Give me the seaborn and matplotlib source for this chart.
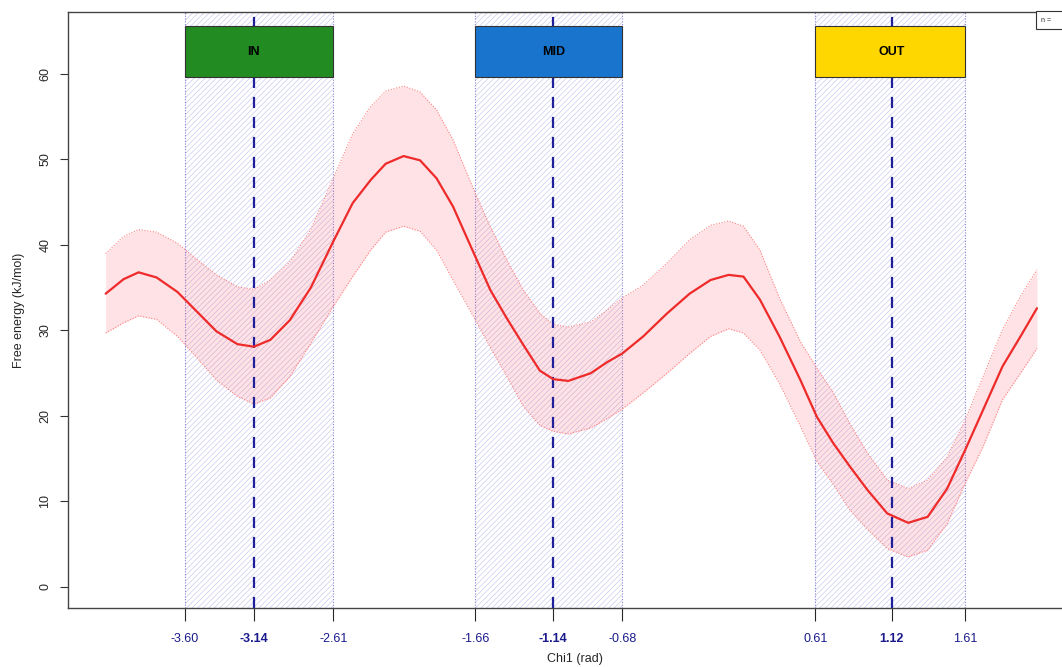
import numpy as np
import pandas as pd
import matplotlib
matplotlib.use("Agg")
import matplotlib.pyplot as plt
from matplotlib.patches import Rectangle
import seaborn as sns

# free energy profile
chi1 = [-4.13, -4.01, -3.91, -3.79, -3.65, -3.52, -3.39, -3.25, -3.14, -3.03,
        -2.90, -2.76, -2.61, -2.48, -2.36, -2.26, -2.14, -2.03, -1.92, -1.81,
        -1.66, -1.56, -1.45, -1.34, -1.23, -1.14, -1.04, -0.89, -0.78, -0.68,
        -0.54, -0.38, -0.23, -0.09, 0.03, 0.13, 0.24, 0.37, 0.51, 0.62,
        0.73, 0.84, 0.96, 1.09, 1.23, 1.36, 1.49, 1.61, 1.73, 1.86,
        1.98, 2.09]
energy = [34.3, 36.0, 36.8, 36.2, 34.5, 32.2, 29.9, 28.4, 28.1, 28.9,
          31.2, 35.0, 40.4, 44.9, 47.6, 49.5, 50.4, 49.9, 47.8, 44.5,
          38.6, 34.7, 31.4, 28.3, 25.3, 24.3, 24.1, 25.0, 26.3, 27.3,
          29.3, 32.0, 34.3, 35.9, 36.5, 36.3, 33.6, 29.3, 24.2, 19.9,
          16.8, 14.1, 11.3, 8.6, 7.5, 8.2, 11.5, 16.0, 20.7, 25.8,
          29.3, 32.6]
upper = [39.0, 41.0, 41.8, 41.5, 40.2, 38.3, 36.5, 35.1, 34.8, 35.9,
         38.0, 41.8, 47.8, 53.0, 56.2, 58.0, 58.6, 57.9, 55.8, 52.3,
         46.0, 42.1, 38.2, 34.7, 32.0, 30.7, 30.4, 31.0, 32.4, 33.8,
         35.3, 37.9, 40.6, 42.3, 42.8, 42.2, 39.4, 33.8, 28.7, 25.6,
         22.7, 19.1, 15.6, 12.5, 11.5, 12.5, 15.2, 19.5, 24.6, 30.1,
         34.0, 37.1]
lower = [29.7, 30.9, 31.7, 31.3, 29.3, 26.8, 24.2, 22.3, 21.4, 22.1,
         24.6, 28.5, 32.8, 36.3, 39.4, 41.5, 42.2, 41.6, 39.4, 35.9,
         31.2, 28.0, 24.6, 21.1, 18.9, 18.2, 17.9, 18.6, 19.7, 20.8,
         22.7, 25.0, 27.3, 29.3, 30.2, 29.7, 27.7, 23.8, 18.8, 14.7,
         12.0, 9.0, 6.7, 4.5, 3.5, 4.3, 7.4, 12.1, 16.4, 21.9,
         25.0, 27.9]

# rotamer states
states = ["IN", "MID", "OUT"]
state_lo = [-3.60, -1.66, 0.61]
state_mid = [-3.14, -1.14, 1.12]
state_hi = [-2.61, -0.68, 1.61]
state_colors = ["#228B22", "#1874CD", "#FFD700"]

df = pd.DataFrame({"chi1": chi1, "energy": energy, "upper": upper, "lower": lower})

sns.set_style("white")
plt.rcParams["font.family"] = ["Liberation Sans", "DejaVu Sans"]
plt.rcParams["hatch.linewidth"] = 0.45

fig = plt.figure(figsize=(10.62, 6.67), dpi=100)
ax = fig.add_axes([0.064, 0.0885, 0.955, 0.8935])

ymin, ymax = -2.46, 67.25
box_lo, box_hi = 59.6, 65.6

for lo, mid, hi in zip(state_lo, state_mid, state_hi):
    ax.axvspan(lo, hi, facecolor="none", edgecolor="#c6c6ee", hatch="//////", linewidth=0, zorder=1)
    ax.axvline(lo, color="#8080d8", lw=0.8, ls=(0, (1, 1.5)), zorder=2)
    ax.axvline(hi, color="#8080d8", lw=0.8, ls=(0, (1, 1.5)), zorder=2)
    ax.axvline(mid, color="#1f1f9a", lw=1.6, ls=(0, (5, 4)), zorder=4)

# confidence band
ax.fill_between(df["chi1"], df["lower"], df["upper"], color="#ff5060", alpha=0.16, lw=0, zorder=3)
ax.plot(df["chi1"], df["upper"], color="#ff8080", lw=0.8, ls=(0, (1, 1.5)), zorder=3)
ax.plot(df["chi1"], df["lower"], color="#ff8080", lw=0.8, ls=(0, (1, 1.5)), zorder=3)
sns.lineplot(data=df, x="chi1", y="energy", color="#ee2a2a", lw=1.6, ax=ax, zorder=5)

for lo, mid, hi, name, col in zip(state_lo, state_mid, state_hi, states, state_colors):
    ax.add_patch(Rectangle((lo, box_lo), hi - lo, box_hi - box_lo, facecolor=col,
                           edgecolor="#333333", lw=0.8, zorder=6))
    ax.text(mid, (box_lo + box_hi) / 2, name, ha="center", va="center",
            fontsize=9, fontweight="bold", color="black", zorder=7)

# little legend box in the corner
ax.add_patch(Rectangle((2.085, 65.3), 0.4, 2.1, facecolor="white", edgecolor="#333333",
                       lw=0.8, zorder=6, clip_on=False))
ax.text(2.12, 66.3, "n = ", fontsize=5, va="center", ha="left", zorder=7)

ax.set_xlim(-4.3816, 2.392)
ax.set_ylim(ymin, ymax)

xt = []
for lo, mid, hi in zip(state_lo, state_mid, state_hi):
    xt += [lo, mid, hi]
ax.set_xticks(xt)
ax.set_xticklabels([f"{v:.2f}" for v in xt], color="#1a1a8c", fontsize=9)
for i, lab in enumerate(ax.get_xticklabels()):
    if i % 3 == 1:
        lab.set_fontweight("bold")
for i, t in enumerate(ax.xaxis.get_major_ticks()):
    t.tick1line.set_color("#1f1f9a" if i % 3 == 1 else "#8080d0")
    t.tick1line.set_markeredgewidth(1.6 if i % 3 == 1 else 0.8)
ax.tick_params(axis="x", length=9, pad=9, bottom=True)

ax.set_yticks([0, 10, 20, 30, 40, 50, 60])
ax.set_yticklabels(["0", "10", "20", "30", "40", "50", "60"], rotation=90, va="center", fontsize=9)
ax.tick_params(axis="y", length=6, pad=6, left=True, color="#333333")

ax.set_xlabel("Chi1 (rad)", fontsize=9, labelpad=6)
ax.set_ylabel("Free energy (kJ/mol)", fontsize=9, labelpad=10)

for s in ax.spines.values():
    s.set_color("#444444")
    s.set_linewidth(1.0)

fig.savefig("out.png", dpi=100)
